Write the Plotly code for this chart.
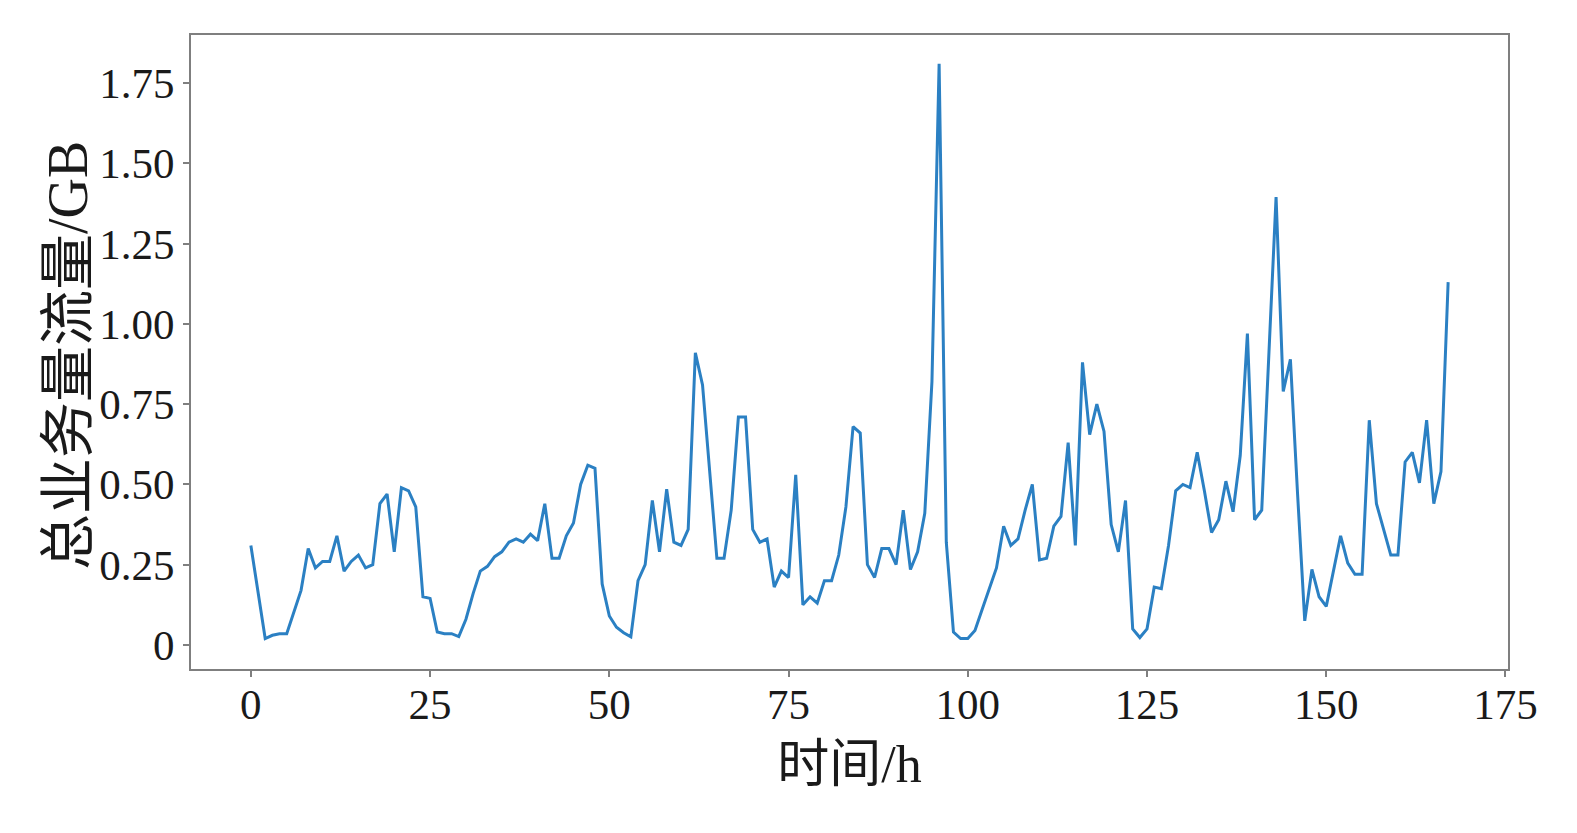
import plotly.graph_objects as go

hours = list(range(168))
traffic = [
    0.31, 0.17, 0.02, 0.03, 0.035, 0.035, 0.10, 0.17, 0.30, 0.24,
    0.26, 0.26, 0.34, 0.23, 0.26, 0.28, 0.24, 0.25, 0.44, 0.47,
    0.29, 0.49, 0.48, 0.43, 0.15, 0.145, 0.04, 0.035, 0.035, 0.026,
    0.08, 0.16, 0.23, 0.245, 0.275, 0.29, 0.32, 0.33, 0.32, 0.345,
    0.325, 0.44, 0.27, 0.27, 0.34, 0.38, 0.50, 0.56, 0.55, 0.19,
    0.09, 0.055, 0.038, 0.025, 0.20, 0.25, 0.45, 0.29, 0.485, 0.32,
    0.31, 0.36, 0.91, 0.81, 0.54, 0.27, 0.27, 0.42, 0.71, 0.71,
    0.36, 0.32, 0.33, 0.18, 0.23, 0.21, 0.53, 0.125, 0.15, 0.13,
    0.20, 0.20, 0.28, 0.43, 0.68, 0.66, 0.25, 0.21, 0.30, 0.30,
    0.25, 0.42, 0.235, 0.29, 0.41, 0.82, 1.81, 0.32, 0.04, 0.02,
    0.02, 0.045, 0.11, 0.175, 0.24, 0.37, 0.31, 0.33, 0.42, 0.50,
    0.265, 0.27, 0.37, 0.40, 0.63, 0.31, 0.88, 0.655, 0.75, 0.665,
    0.375, 0.29, 0.45, 0.05, 0.023, 0.05, 0.18, 0.175, 0.31, 0.48,
    0.50, 0.49, 0.60, 0.48, 0.35, 0.39, 0.51, 0.415, 0.59, 0.97,
    0.39, 0.42, 0.92, 1.395, 0.79, 0.89, 0.47, 0.075, 0.235, 0.15,
    0.12, 0.225, 0.34, 0.255, 0.22, 0.22, 0.70, 0.44, 0.36, 0.28,
    0.28, 0.57, 0.60, 0.505, 0.70, 0.44, 0.54, 1.13,
]

x_ticks = [0, 25, 50, 75, 100, 125, 150, 175]
y_ticks = [0, 0.25, 0.5, 0.75, 1.0, 1.25, 1.5, 1.75]
y_tick_text = ["0", "0.25", "0.50", "0.75", "1.00", "1.25", "1.50", "1.75"]
x_title = "时间/h"
y_title = "总业务量流量/GB"

font_family = "Liberation Serif, Times New Roman, Noto Sans CJK SC, serif"

fig = go.Figure()
fig.add_trace(go.Scatter(
    x=hours, y=traffic, mode="lines",
    line=dict(color="#2b80c3", width=3),
    showlegend=False,
))

axis_common = dict(
    showline=True, linecolor="#7f7f7f", linewidth=2, mirror=True,
    ticks="outside", ticklen=6, tickwidth=1.5, tickcolor="#7f7f7f",
    showgrid=False, zeroline=False,
    tickfont=dict(family=font_family, size=43, color="#1a1a1a"),
)

fig.update_layout(
    width=1577, height=833,
    margin=dict(l=183, r=77, t=27, b=172),
    paper_bgcolor="white", plot_bgcolor="white",
    font=dict(family=font_family),
    xaxis=dict(
        **axis_common,
        range=[-8.35, 175.35],
        tickvals=x_ticks,
        ticklabelstandoff=-10,
        title=dict(text=x_title, font=dict(family=font_family, size=52, color="#1a1a1a"), standoff=19),
    ),
    yaxis=dict(
        **axis_common,
        range=[-0.075, 1.9],
        tickvals=y_ticks, ticktext=y_tick_text,
    ),
    annotations=[dict(
        text=y_title, textangle=-90, showarrow=False,
        xref="paper", yref="paper", x=0, y=0.5,
        xanchor="center", yanchor="middle",
        xshift=-123, yshift=-4,
        font=dict(family=font_family, size=56, color="#1a1a1a"),
    )],
)

fig.write_html("out.html")
